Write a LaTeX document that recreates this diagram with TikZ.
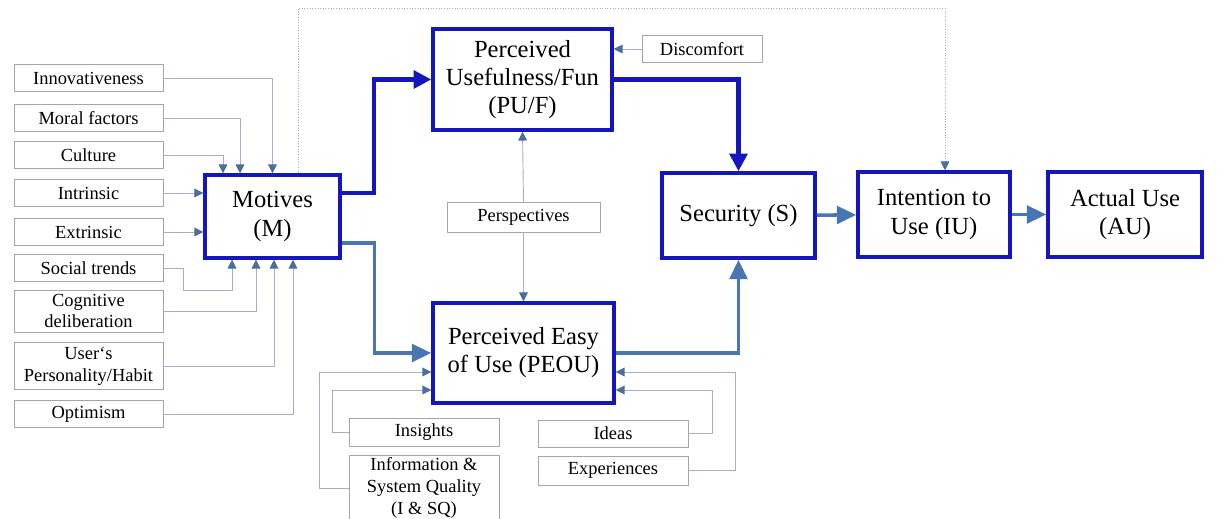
\documentclass[tikz,border=0pt]{standalone}
\usepackage{fontspec}
\setmainfont{Liberation Serif}
\usetikzlibrary{positioning, arrows.meta}
\definecolor{boxblue}{RGB}{22, 22, 190}
\definecolor{steelblue}{RGB}{72, 118, 178}
\definecolor{feedgray}{RGB}{165, 175, 195}
\definecolor{tipblue}{RGB}{78, 108, 158}
\definecolor{smallgray}{RGB}{165, 165, 172}

\begin{document}
\begin{tikzpicture}[
        x=0.02cm, y=-0.02cm,
        mainbox/.style={draw=boxblue, line width=2pt, align=center, font=\fontsize{14}{16}\selectfont, inner sep=2pt},
        factor/.style={draw=smallgray, line width=0.5pt, align=center, font=\fontsize{10.5}{12.5}\selectfont, minimum width=2.98cm, minimum height=0.54cm, inner sep=1pt},
        strong/.style={draw=boxblue, line width=2.4pt, -{Triangle[length=10pt, width=10pt]}},
        medium/.style={draw=steelblue, line width=2pt, -{Triangle[length=11pt, width=10pt]}},
        feed/.style={draw=feedgray, line width=0.5pt, -{Triangle[length=5pt, width=5pt, color=tipblue]}},
        dotline/.style={draw=feedgray, line width=0.5pt, densely dotted, -{Triangle[length=5pt, width=5pt, color=tipblue]}}
    ]
    \useasboundingbox (0, 0) rectangle (1227, 519);

    % Main constructs
    \node[mainbox, minimum width=2.7cm, minimum height=1.66cm] (mot) at (272.5, 216.5) {Motives\\(M)};
    \node[mainbox, minimum width=3.58cm, minimum height=2.02cm] (puf) at (522.5, 79.5) {Perceived\\Usefulness/Fun\\(PU/F)};
    \node[mainbox, minimum width=3.62cm, minimum height=2.0cm] (peou) at (523.5, 353) {Perceived Easy\\of Use (PEOU)};
    \node[mainbox, minimum width=3.06cm, minimum height=1.7cm] (sec) at (738.5, 215.5) {Security (S)};
    \node[mainbox, minimum width=3.04cm, minimum height=1.7cm] (iu) at (934, 214.5) {Intention to\\Use (IU)};
    \node[mainbox, minimum width=3.08cm, minimum height=1.7cm] (au) at (1125, 214.5) {Actual Use\\(AU)};

    % Factors feeding the motives
    \node[factor] (inno) at (88.5, 78) {Innovativeness};
    \node[factor] (moral) at (88.5, 118) {Moral factors};
    \node[factor] (cult) at (88.5, 155) {Culture};
    \node[factor] (intr) at (88.5, 193) {Intrinsic};
    \node[factor] (extr) at (88.5, 232) {Extrinsic};
    \node[factor] (soc) at (88.5, 268) {Social trends};
    \node[factor, minimum height=0.84cm] (cog) at (88.5, 311) {Cognitive\\deliberation};
    \node[factor, minimum height=0.94cm] (user) at (88.5, 366) {User`s\\Personality/Habit};
    \node[factor] (opt) at (88.5, 414) {Optimism};

    % Other factors
    \node[factor, minimum width=2.4cm] (disc) at (702, 49) {Discomfort};
    \node[factor, minimum width=3.06cm, minimum height=0.6cm] (persp) at (523.5, 217) {Perspectives};
    \node[factor, minimum width=3.0cm, minimum height=0.56cm] (ins) at (424, 432) {Insights};
    \node[factor, minimum width=3.0cm, minimum height=1.2cm] (isq) at (424, 488) {Information \&\\System Quality\\(I \& SQ)};
    \node[factor, minimum width=3.0cm] (idea) at (613, 433.5) {Ideas};
    \node[factor, minimum width=3.0cm, minimum height=0.58cm] (expc) at (613, 470.5) {Experiences};

    % Into Motives, top and sides
    \draw[feed] (inno.east) -| (mot.north);
    \draw[feed] (moral.east) -| ([xshift=-0.65cm]mot.north);
    \draw[feed] (cult.east) -| ([xshift=-0.99cm]mot.north);
    \draw[feed] (intr.east) -- (mot.west |- intr.east);
    \draw[feed] (extr.east) -- (mot.west |- extr.east);

    % Into Motives, bottom
    \draw[feed] (soc.east) -- ++(0.4cm, 0) -- ++(0, -0.44cm) -| ([xshift=-0.81cm]mot.south);
    \draw[feed] (cog.east) -| ([xshift=-0.33cm]mot.south);
    \draw[feed] (user.east) -| ([xshift=0.03cm]mot.south);
    \draw[feed] (opt.east) -| ([xshift=0.41cm]mot.south);

    % Motives to PU/F and PEOU
    \draw[strong] ([yshift=0.47cm]mot.east) -- ++(0.64cm, 0) |- (puf.west);
    \draw[medium] ([yshift=-0.53cm]mot.east) -- ++(0.66cm, 0) |- (peou.west);

    % To Security and onwards
    \draw[strong] (puf.east) -| (sec.north);
    \draw[medium] (peou.east) -| (sec.south);
    \draw[medium] (sec) -- (iu);
    \draw[medium] (iu) -- (au);

    % Motives straight to intention (dotted, over the top)
    \draw[dotline] ([xshift=0.51cm]mot.north) -- ++(0, 3.3cm) -| ([xshift=0.22cm]iu.north);

    % Discomfort and perspectives
    \draw[feed] (disc.west) -- (puf.east |- disc.west);
    \draw[feed] (persp.north) -- (puf.south);
    \draw[feed] (persp.south) -- (peou.north);

    % Into PEOU from below
    \draw[feed] (isq.west) -- ++(-0.58cm, 0) |- ([yshift=-0.38cm]peou.west);
    \draw[feed] (ins.west) -- ++(-0.32cm, 0) |- ([yshift=-0.74cm]peou.west);
    \draw[feed] (idea.east) -- ++(0.48cm, 0) |- ([yshift=-0.74cm]peou.east);
    \draw[feed] (expc.east) -- ++(0.94cm, 0) |- ([yshift=-0.38cm]peou.east);

\end{tikzpicture}
\end{document}
